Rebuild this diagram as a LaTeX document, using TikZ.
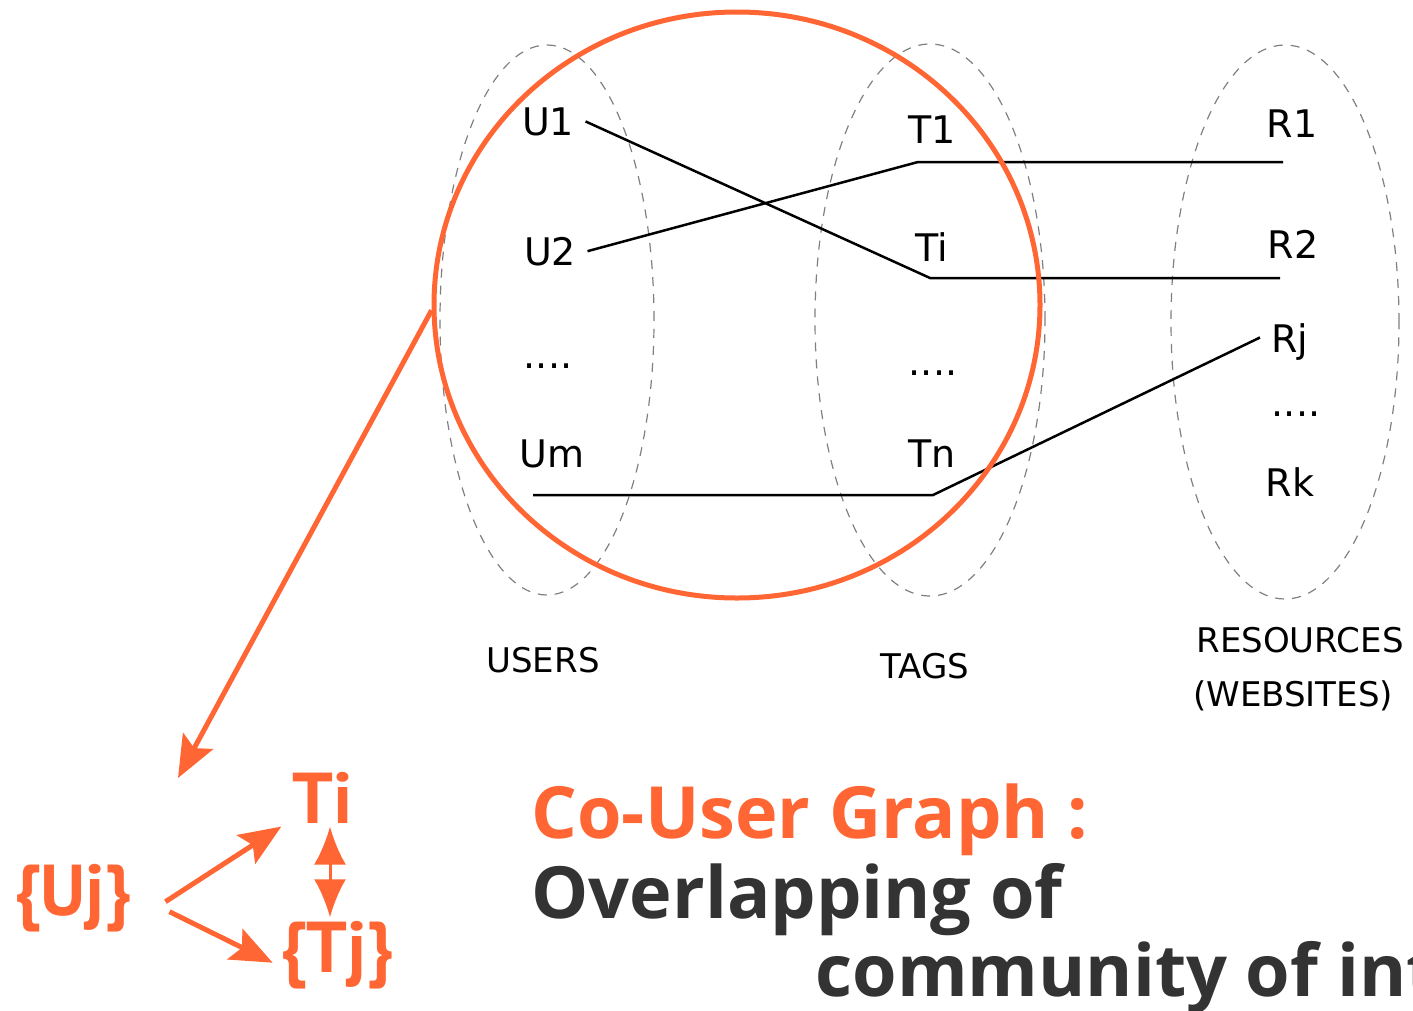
\documentclass[tikz,border=0pt]{standalone}
\usepackage{fontspec}
\setmainfont{DejaVu Sans}
\newfontfamily\ptsans{PT Sans}
\newfontfamily\opensans{Open Sans}
\usetikzlibrary{arrows.meta,shapes.geometric}
\definecolor{accent}{HTML}{FF6633}
\definecolor{ink}{HTML}{333333}

\begin{document}
\begin{tikzpicture}[x=1pt,y=-1pt,
    item/.style    = {anchor=base, font=\fontsize{38}{40}\selectfont},
    setname/.style = {anchor=base, font=\fontsize{34}{36}\selectfont},
    group/.style   = {draw=gray, dash pattern=on 9pt off 8pt, line width=1.2pt},
    link/.style    = {line width=2.5pt},
    pointer/.style = {accent, line width=5pt, -{Stealth[length=42pt,width=34pt,inset=8pt]}},
    big/.style     = {anchor=base, accent, font=\ptsans\bfseries\fontsize{72}{80}\selectfont},
    caption/.style = {anchor=base west, font=\opensans\bfseries\fontsize{72}{80}\selectfont}]
  \useasboundingbox (0,0) rectangle (1413,1010);

  % the three sets
  \draw[group] (547,320) ellipse (107pt and 275pt);
  \draw[group] (930,320) ellipse (115pt and 276pt);
  \draw[group] (1285,322) ellipse (114pt and 277pt);

  % members
  \node[item] (u1) at (548,135) {U1};
  \node[item] (u2) at (550,265) {U2};
  \node[item] (ud) at (548,368) {....};
  \node[item] (um) at (552,467) {Um};
  \node[item] (t1) at (932,143) {T1};
  \node[item] (ti) at (932,261) {Ti};
  \node[item] (td) at (933,375) {....};
  \node[item] (tn) at (932,467) {Tn};
  \node[item] (r1) at (1292,137) {R1};
  \node[item] (r2) at (1293,258) {R2};
  \node[item] (rj) at (1290,352) {Rj};
  \node[item] (rd) at (1296,416) {....};
  \node[item] (rk) at (1290,496) {Rk};

  \node[setname] (users) at (543,672) {USERS};
  \node[setname] (tags)  at (925,678) {TAGS};
  \node[setname] (res)   at (1300,652) {RESOURCES};
  \node[setname] (web)   at (1293,706) {(WEBSITES)};

  % links
  \coordinate (bi) at (930,278);
  \coordinate (b1) at (918,162);
  \coordinate (bn) at (933,495);
  \coordinate (um0) at (533,495);
  \draw[link] ([xshift=8pt]u1.east) -- (bi) -- ([xshift=16pt]bi -| r2.west);
  \draw[link] ([xshift=8pt]u2.east) -- (b1) -- ([xshift=20pt]b1 -| r1.west);
  \draw[link] (um0) -- (bn) -- ([shift={(-8pt,4pt)}]rj.west);

  % zoom lens
  \node[draw=accent, line width=5pt, ellipse, minimum width=606pt, minimum height=586pt] (lens) at (737,305) {};
  \coordinate (zoomto) at (178,778);
  \draw[pointer] (lens.181) -- (zoomto);

  % co-user graph
  \node[big] (uj)  at (73,915)  {\{Uj\}};
  \node[big] (tib) at (323,823) {Ti};
  \node[big] (tj)  at (337,972) {\{Tj\}};
  \draw[pointer] ([shift={(30,4)}]uj.east) -- ([shift={(-8,0)}]tib.south west);
  \draw[pointer] ([shift={(34,14)}]uj.east) -- ([shift={(-4,8)}]tj.west);
  \draw[accent, line width=3pt, {Latex[length=38pt,width=32pt]}-{Latex[length=38pt,width=32pt]}]
    ([xshift=7pt]tib.south) -- ([xshift=7pt]tib.south |- tj.north);

  \node[caption, accent] (head) at (528,838) {Co-User Graph :};
  \node[caption, ink]    (l1)   at (528,918) {Overlapping of};
  \node[caption, ink]    (l2)   at (812,996) {community of int};
\end{tikzpicture}
\end{document}
